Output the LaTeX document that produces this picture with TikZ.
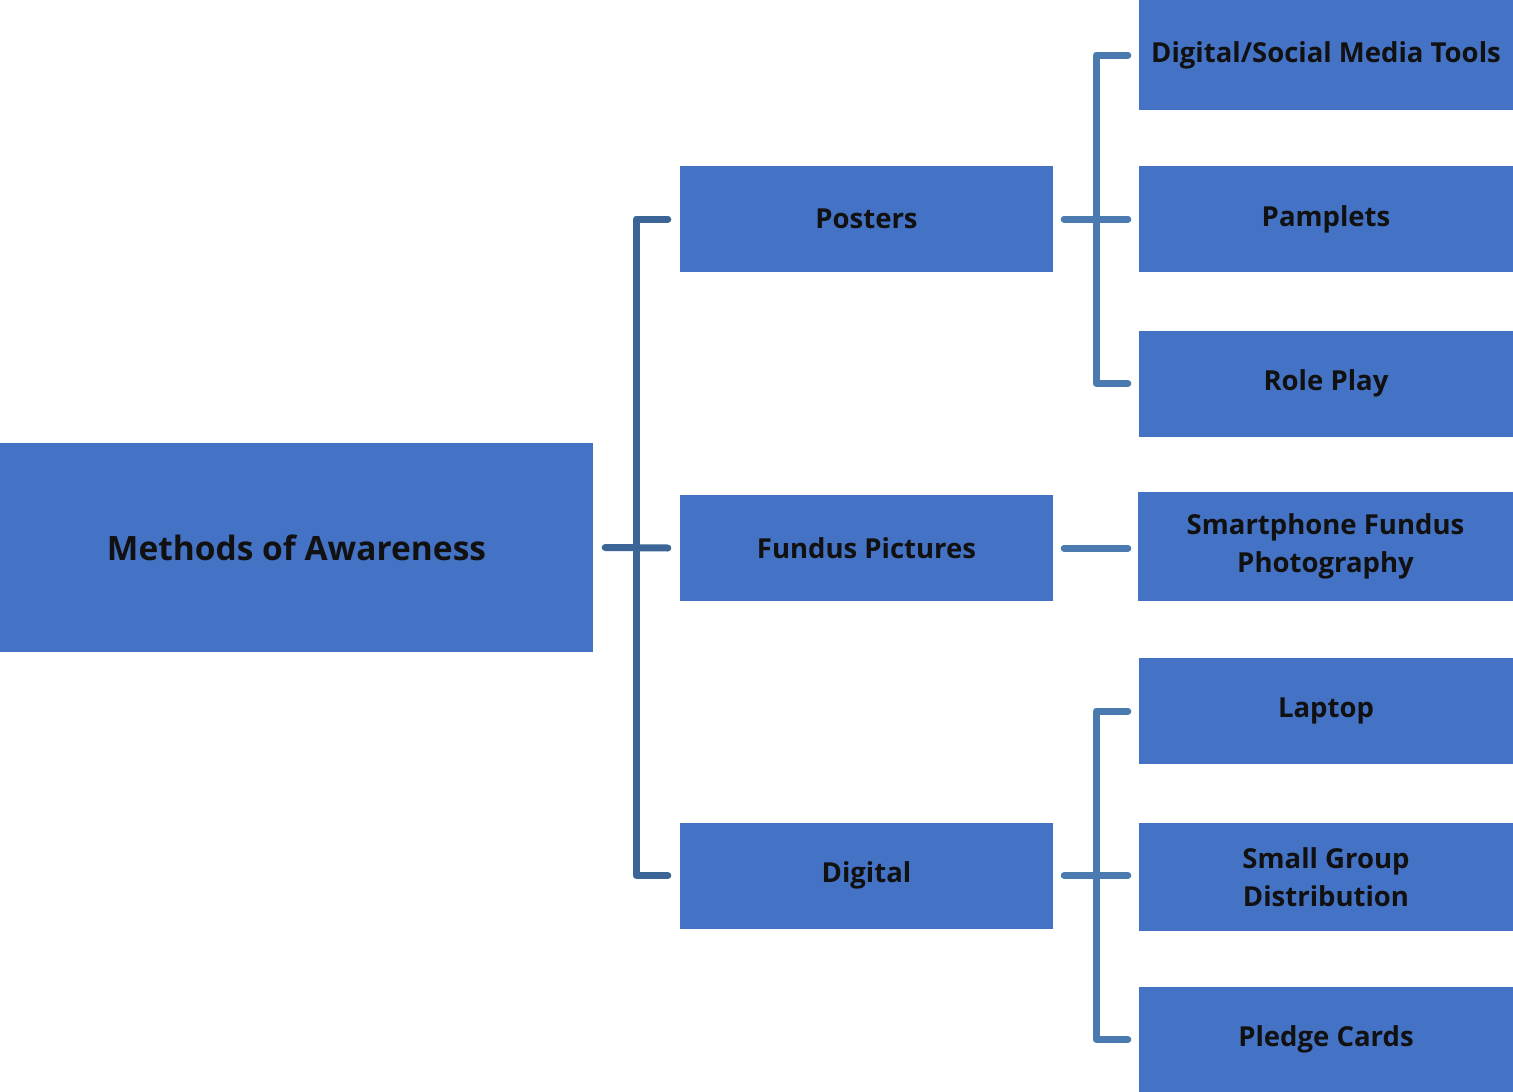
\documentclass[tikz,border=0pt]{standalone}
\usepackage{fontspec}
\setmainfont{Open Sans}
\definecolor{boxblue}{HTML}{4472C4}
\definecolor{leftline}{HTML}{3B6597}
\definecolor{rightline}{HTML}{4B7AB0}
\definecolor{txt}{HTML}{111111}
\begin{document}
\begin{tikzpicture}[x=1pt,y=-1pt,
  box/.style={fill=boxblue, draw=none, inner sep=0pt, align=center, text=txt,
    font=\fontsize{27.5}{38.5}\selectfont\bfseries, minimum height=106pt},
  midbox/.style={box, minimum width=373pt},
  rbox/.style={box, minimum width=374pt},
  link/.style={line width=7pt, line cap=round, line join=round},
]
\useasboundingbox (0,0) rectangle (1513,1092);
\node[box, minimum width=593pt, minimum height=209pt, font=\fontsize{33.5}{40}\selectfont\bfseries] (root) at (296.5,547.5) {Methods of Awareness};
\node[midbox] (posters) at (866.5,219) {Posters};
\node[midbox] (fundus) at (866.5,548) {Fundus Pictures};
\node[midbox] (digital) at (866.5,875.5) {Digital};
\node[rbox, minimum height=110pt] (dsm) at (1326,55) {Digital/Social Media Tools};
\node[rbox] (pam) at (1326,219) {Pamplets};
\node[rbox] (role) at (1326,383.5) {Role Play};
\node[rbox, minimum width=375pt, minimum height=109pt] (smart) at (1325.5,546.5) {Smartphone Fundus\\Photography};
\node[rbox] (lap) at (1326,711) {Laptop};
\node[rbox, minimum height=108pt] (small) at (1326,877) {Small Group\\Distribution};
\node[rbox, minimum height=105pt] (pledge) at (1326,1039.5) {Pledge Cards};

% left connector
\coordinate (lj) at ([xshift=43pt]root.east |- root.east);
\draw[link, leftline] ([xshift=12pt]root.east) -- ([xshift=-12pt]fundus.west);
\draw[link, leftline] ([xshift=-12pt]posters.west) -| (lj |- posters.west) -- (lj |- digital.west) -- ([xshift=-12pt]digital.west);

% posters group
\coordinate (rj) at ([xshift=43pt]posters.east);
\draw[link, rightline] ([xshift=11pt]posters.east) -- ([xshift=-11pt]pam.west);
\draw[link, rightline] ([xshift=-11pt]dsm.west) -- (rj |- dsm.west) -- (rj |- role.west) -- ([xshift=-11pt]role.west);

% fundus
\draw[link, rightline] ([xshift=11pt]fundus.east) -- ([xshift=-10pt]smart.west |- fundus.east);

% digital group
\draw[link, rightline] ([xshift=11pt]digital.east) -- ([xshift=-11pt]small.west |- digital.east);
\draw[link, rightline] ([xshift=-11pt]lap.west) -- (rj |- lap.west) -- (rj |- pledge.west) -- ([xshift=-11pt]pledge.west);
\end{tikzpicture}
\end{document}
